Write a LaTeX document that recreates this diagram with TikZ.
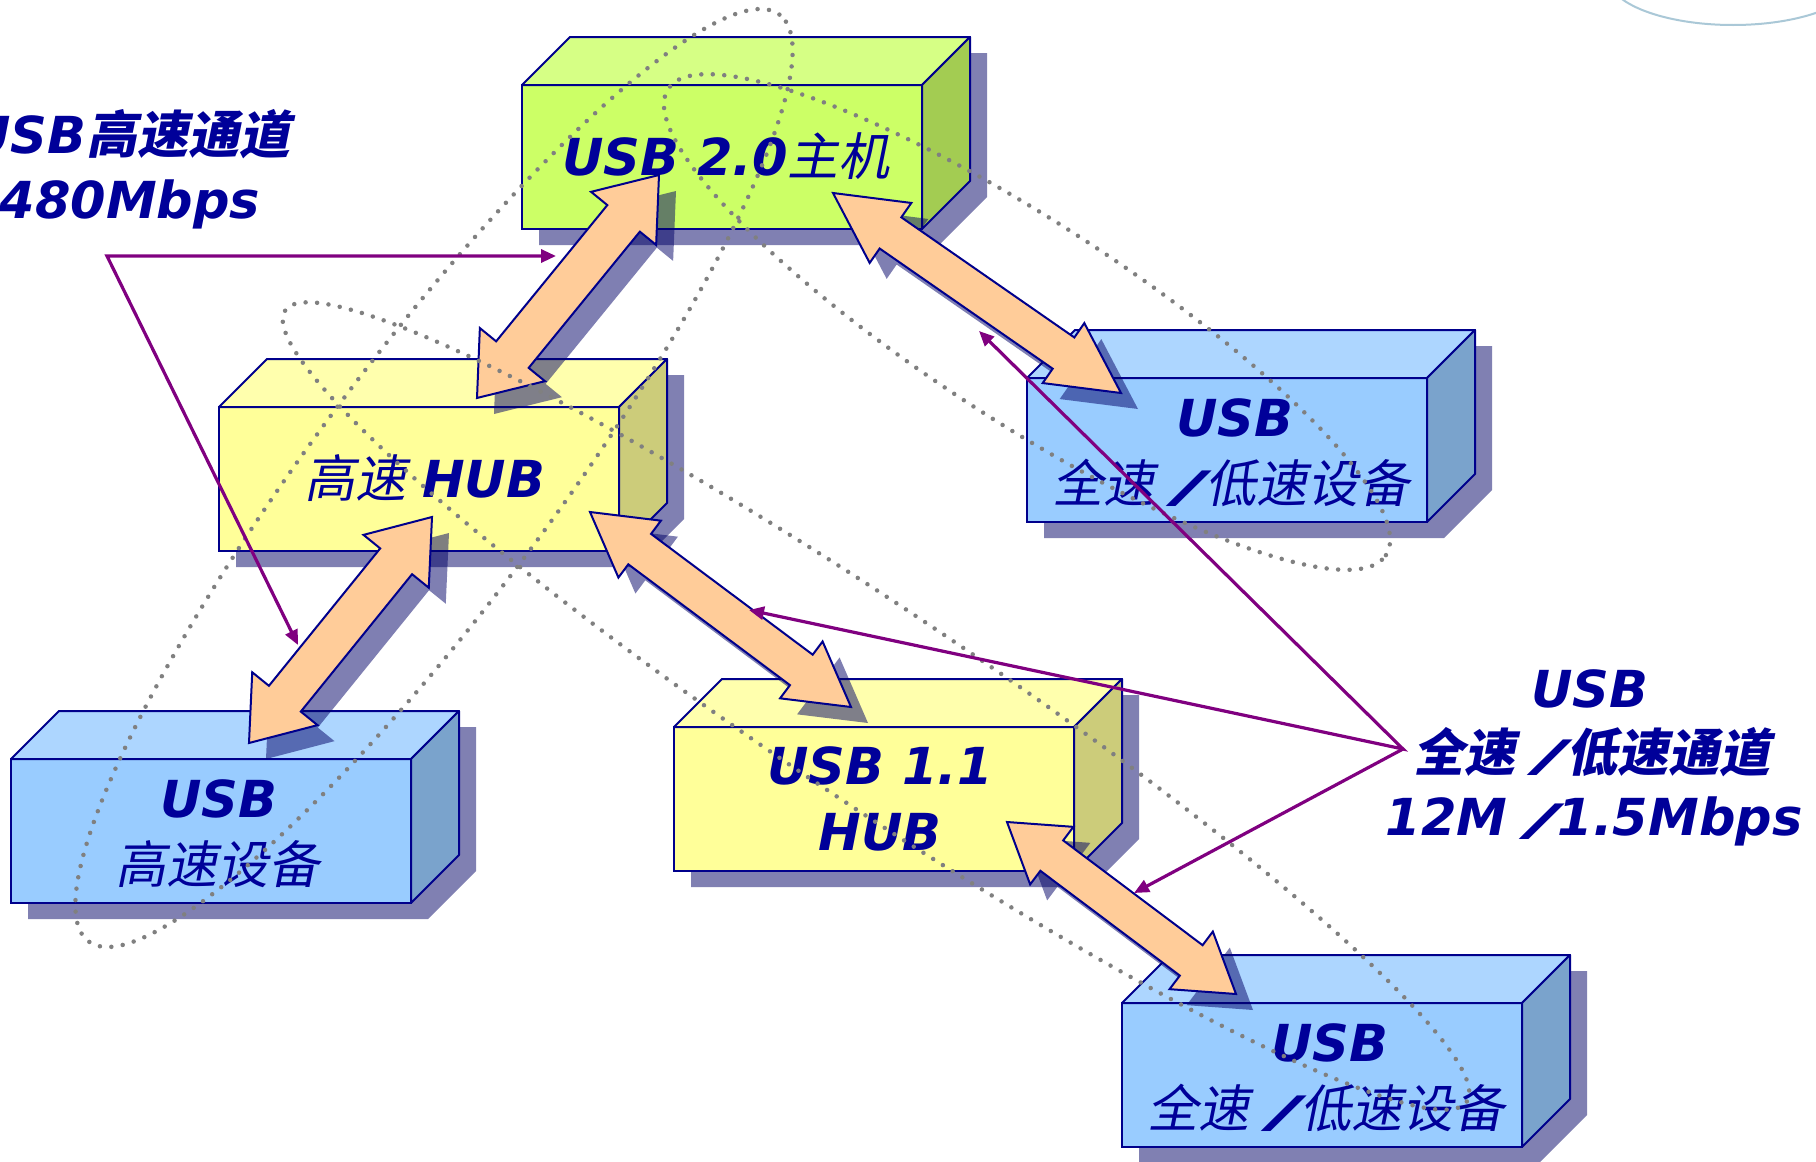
\documentclass[tikz,border=0pt]{standalone}
\usepackage{fontspec}
\usepackage{graphicx}
\usetikzlibrary{calc,arrows.meta}
\newfontfamily\latf{DejaVu Sans}
\newfontfamily\cjkf{Noto Sans CJK SC}[FakeSlant=0.2]

\definecolor{ink}{RGB}{0,0,153}
\definecolor{edge}{RGB}{0,0,140}
\definecolor{hostc}{RGB}{204,255,102}
\definecolor{hubc}{RGB}{255,255,153}
\definecolor{devc}{RGB}{153,204,255}
\definecolor{peach}{RGB}{255,204,153}
\definecolor{shadowc}{RGB}{0,0,102}
\definecolor{shadowflat}{RGB}{128,128,178}
\definecolor{plum}{RGB}{128,0,128}
\definecolor{dotc}{RGB}{128,128,128}
\definecolor{arcc}{RGB}{170,200,215}

% text helpers: bold oblique Latin, slanted CJK (regular / bold), wide heavy slash
\newcommand\lt[1]{{\latf\bfseries\itshape #1}}
\newcommand\ct[1]{{\cjkf #1}}
\newcommand\cb[1]{{\cjkf\bfseries #1}}
\newcommand\slsh{\hspace{20pt}\scalebox{1.7}[0.85]{\latf\bfseries\itshape /}\hspace{-1pt}}

% a shaded cube: name, x, y of the front face's top-left corner, colour
\newcommand\cube[4]{%
  \fill[shadowflat] (#2+17,#3+160) -- (#2+417,#3+160) -- (#2+465,#3+112)
     -- (#2+465,#3-32) -- (#2+65,#3-32) -- (#2+17,#3+16) -- cycle;
  \node[frontface, fill=#4, anchor=north west] (#1) at (#2,#3) {};
  \filldraw[facedraw, fill=#4!80!white] (#1.north west) -- ++(48,-48) -- ++(400,0)
     -- (#1.north east) -- cycle;
  \filldraw[facedraw, fill=#4!80!black] (#1.north east) -- ++(48,-48) -- ++(0,144)
     -- (#1.south east) -- cycle;
}

% outline of a two-headed block arrow between #1 and #2,
% head half width #3, shaft half width #4 (needs ha, hb)
\newcommand\arrowoutline[4]{(#1) -- ($(ha)!#3!90:(#2)$) -- ($(ha)!#4!90:(#2)$)
  -- ($(hb)!#4!-90:(#1)$) -- ($(hb)!#3!-90:(#1)$) -- (#2)
  -- ($(hb)!#3!90:(#1)$) -- ($(hb)!#4!90:(#1)$)
  -- ($(ha)!#4!-90:(#2)$) -- ($(ha)!#3!-90:(#2)$) -- cycle}

% block arrow: ends, head length, head half width, shaft half width
\newcommand\blockarrow[5]{%
  \coordinate (ha) at ($(#1)!#3!(#2)$);
  \coordinate (hb) at ($(#2)!#3!(#1)$);
  \fill[shadowc, opacity=0.5, transform canvas={shift={(17pt,-16pt)}}]
     \arrowoutline{#1}{#2}{#4}{#5};
  \filldraw[bigarrow] \arrowoutline{#1}{#2}{#4}{#5};
}

\begin{document}
\begin{tikzpicture}[x=1pt, y=-1pt,
  frontface/.style={draw=edge, line width=2pt, minimum width=400pt,
    minimum height=144pt, inner sep=0pt, outer sep=0pt},
  facedraw/.style={draw=edge, line width=2pt, line join=round},
  bigarrow/.style={fill=peach, draw=edge, line width=2pt, line join=miter},
  lbl/.style={text=ink, font=\fontsize{51}{60}\selectfont, inner sep=0pt, anchor=base},
  dots/.style={draw=dotc, line width=4.5pt, line cap=round, dash pattern=on 0pt off 11.5pt},
  pointer/.style={draw=plum, line width=3.2pt, line join=miter},
  tip/.style={-{Triangle[length=15pt, width=13pt]}},
  bothtips/.style={{Triangle[length=15pt, width=13pt]}-{Triangle[length=15pt, width=13pt]}}]

\useasboundingbox (0,0) rectangle (1816,1162);
\fill[white] (0,0) rectangle (1816,1162);

% decorative arc in the top-right corner
\draw[arcc, line width=2pt] (1733,-23) ellipse [x radius=125pt, y radius=48pt];

% the six cubes
\cube{host}{522}{85}{hostc}
\cube{hshub}{219}{407}{hubc}
\cube{fsdevA}{1027}{378}{devc}
\cube{hsdev}{11}{759}{devc}
\cube{hubold}{674}{727}{hubc}
\cube{fsdevB}{1122}{1003}{devc}

% cube captions
\node[lbl] (hosttxt) at ($(host.center)+(4,18)$) {\lt{USB 2.0}\ct{主机}};
\node[lbl] (hshubtxt) at ($(hshub.center)+(6,18)$) {\ct{高速} \lt{HUB}};
\node[lbl] (huboldA) at ($(hubold.center)+(6,-15)$) {\lt{USB 1.1}};
\node[lbl] (huboldB) at ($(hubold.center)+(6,51)$) {\lt{HUB}};
\node[lbl] (hsdevA) at ($(hsdev.center)+(8,-14)$) {\lt{USB}};
\node[lbl] (hsdevB) at ($(hsdev.center)+(6,52)$) {\ct{高速设备}};
\node[lbl] (fsdevAa) at ($(fsdevA.center)+(8,-14)$) {\lt{USB}};
\node[lbl] (fsdevAb) at ($(fsdevA.center)+(4,52)$) {\ct{全速}\slsh\ct{低速设备}};
\node[lbl] (fsdevBa) at ($(fsdevB.center)+(8,-14)$) {\lt{USB}};
\node[lbl] (fsdevBb) at ($(fsdevB.center)+(4,52)$) {\ct{全速}\slsh\ct{低速设备}};

% ends of the block arrows
\coordinate (a1s) at (477,398);  \coordinate (a1e) at (659,175);
\coordinate (a2s) at (833,193);  \coordinate (a2e) at (1121,393);
\coordinate (a3s) at (249,743);  \coordinate (a3e) at (432,517);
\coordinate (a4s) at (590,512);  \coordinate (a4e) at (851,707);
\coordinate (a5s) at (1007,822); \coordinate (a5e) at (1236,994);

\blockarrow{a1s}{a1e}{56pt}{42pt}{21pt}
\blockarrow{a2s}{a2e}{70pt}{36.5pt}{19pt}
\blockarrow{a3s}{a3e}{57pt}{42pt}{20.5pt}
\blockarrow{a4s}{a4e}{62pt}{35.5pt}{19pt}
\blockarrow{a5s}{a5e}{56pt}{36pt}{19pt}

% dotted loops around the high-speed and full/low-speed paths
\draw[dots, shift={(434,478)}, rotate=53.3] (0,0) ellipse [x radius=578pt, y radius=120pt];
\draw[dots, shift={(1027,322)}, rotate=-33] (0,0) ellipse [x radius=428pt, y radius=100pt];
\draw[dots, shift={(876,706)}, rotate=-33.8] (0,0) ellipse [x radius=711pt, y radius=97pt];

% channel labels
\node[lbl] (hsname) at (130,153) {\lt{USB}\cb{高速通道}};
\node[lbl] (hsrate) at (130,218) {\lt{480Mbps}};
\node[lbl] (fsname0) at (1590,707) {\lt{USB}};
\node[lbl] (fsname) at (1592,771) {\cb{全速}\slsh\cb{低速通道}};
\node[lbl] (fsrate) at (1594,835) {\lt{12M}\slsh\lt{1.5Mbps}};

% pointers from the labels
\coordinate (j1) at (107,256);
\coordinate (t1) at (556,256);
\coordinate (t2) at (298,645);
\coordinate (j2) at (1403,749);
\coordinate (t3) at (979,331);
\coordinate (t4) at (749,610);
\coordinate (t5) at (1134,893);
\draw[pointer, bothtips] (t1) -- (j1) -- (t2);
\draw[pointer, bothtips] (t3) -- (j2) -- (t4);
\draw[pointer, tip] (j2) -- (t5);
\end{tikzpicture}
\end{document}
